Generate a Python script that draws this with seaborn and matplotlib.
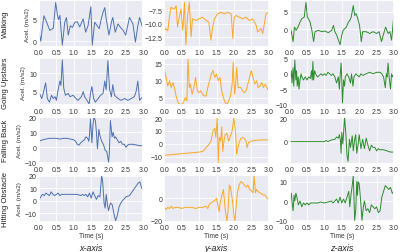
import matplotlib
matplotlib.use("Agg")
import matplotlib.pyplot as plt
import seaborn as sns
import numpy as np

# activity rows and axis columns
activities = ["Walking", "Going Upstairs", "Falling Back", "Hitting Obstacle"]
axis_names = ["x-axis", "y-axis", "z-axis"]
line_colors = ["#4c72b0", "#f9a825", "#2e8b2e"]

# --- Walking ---
walk_x_t = [0, 0.05, 0.14, 0.22, 0.31, 0.41, 0.48, 0.53, 0.56, 0.6, 0.67, 0.74, 0.79, 0.84, 0.9, 0.96,
            1.03, 1.1, 1.17, 1.27, 1.34, 1.41, 1.49, 1.53, 1.6, 1.67, 1.73, 1.79, 1.84, 1.89, 1.93, 2.01,
            2.08, 2.12, 2.19, 2.27, 2.34, 2.41, 2.49, 2.6, 2.7, 2.77, 2.84, 2.89, 2.96, 3.0]
walk_x_v = [2.1, 0, 5.9, 4.4, 2.5, 3, 9, 6, 5, 6, -0.9, 4.4, 5.5, 1.4, 3.6, 3.2,
            4.4, 4.5, 3.3, 5.2, 2.1, 3.6, 8, -0.9, 4.4, 3.6, 2.9, 5.2, 6.7, 7.8, 5.2, 1.4,
            4.4, 5.5, 2.1, 4, 3.2, 2.6, 1.4, 5.5, 4, -0.2, 3.6, 5.5, 3.6, 2.9]
walk_y_t = [0, 0.05, 0.1, 0.14, 0.19, 0.29, 0.34, 0.38, 0.43, 0.48, 0.53, 0.58, 0.62, 0.67, 0.72, 0.77,
            0.81, 0.91, 1.0, 1.1, 1.2, 1.28, 1.34, 1.39, 1.44, 1.53, 1.63, 1.73, 1.82, 1.92, 1.97, 2.01,
            2.06, 2.16, 2.25, 2.35, 2.44, 2.54, 2.64, 2.68, 2.78, 2.83, 2.92, 3.0]
walk_y_v = [-11.2, -10.9, -11.3, -9.1, -7.0, -7.3, -6.7, -10.6, -8.8, -7.3, -11.2, -6.1, -13.9, -8.5, -6.1, -12.4,
            -9.1, -9.4, -9.1, -8.8, -9.4, -9.7, -13.0, -10.6, -9.1, -8.2, -7.9, -8.2, -7.9, -8.2, -12.7, -8.8,
            -8.5, -8.8, -9.1, -8.8, -9.4, -9.1, -10.3, -11.5, -10.9, -11.8, -8.2, -7.9]
walk_z_t = [0, 0.05, 0.1, 0.14, 0.19, 0.24, 0.3, 0.35, 0.42, 0.47, 0.51, 0.54, 0.59, 0.64, 0.69, 0.73,
            0.83, 0.92, 1.02, 1.11, 1.21, 1.26, 1.3, 1.35, 1.45, 1.5, 1.54, 1.63, 1.69, 1.73, 1.77, 1.83,
            1.87, 1.91, 1.96, 2.01, 2.06, 2.1, 2.2, 2.3, 2.4, 2.5, 2.57, 2.64, 2.69, 2.76, 2.83, 2.88,
            2.93, 3.0]
walk_z_v = [1.1, -0.7, -3.5, 0.6, -0.3, 0.6, 2, 3, 3.4, 7.6, 3.4, 3, 2, -0.3, -3.5, -0.7,
            -0.3, -0.7, -0.5, -1, -0.3, 1.1, -0.7, -1.6, -4.4, -1.7, -0.3, 0.6, 2, 2.5, 3.4, 6.7,
            3.9, 4.4, 3, 1.1, -3.5, -0.7, -0.7, -1.2, -0.7, -1.2, -0.7, -3.5, -1.7, 0.6, -1.2, -0.7,
            -3.1, 4.4]

# --- Going Upstairs ---
up_x_t = [0, 0.08, 0.12, 0.19, 0.24, 0.3, 0.36, 0.41, 0.46, 0.5, 0.55, 0.6, 0.63, 0.67, 0.71, 0.76,
          0.84, 0.89, 0.98, 1.06, 1.12, 1.22, 1.27, 1.31, 1.38, 1.44, 1.48, 1.52, 1.57, 1.62, 1.7, 1.77,
          1.84, 1.89, 1.93, 1.98, 2.03, 2.08, 2.12, 2.17, 2.27, 2.36, 2.46, 2.55, 2.65, 2.74, 2.79, 2.84,
          2.89, 2.93, 3.0]
up_x_v = [4.7, 3.1, 4.5, 7.4, 3.1, 2.1, 4, 3.1, 3.6, 2.6, 5.5, 7.9, 6.7, 13.7, 6, 4,
          4.5, 3.6, 4, 3.1, 2.6, 3.6, 5, 3.6, 2.6, 1.6, 4.5, 6.4, 3.1, 2.1, 3.1, 4,
          4.5, 7.9, 5.5, 13.5, 5.5, 3.6, 6.9, 4, 3.1, 2.6, 3.1, 2.6, 3.1, 3.6, 5, 7.9,
          2.6, 3.1, 3.6]
up_y_t = [0, 0.05, 0.1, 0.15, 0.2, 0.25, 0.3, 0.35, 0.4, 0.45, 0.5, 0.55, 0.6, 0.65, 0.68, 0.72,
          0.75, 0.8, 0.85, 0.9, 0.95, 1.0, 1.05, 1.1, 1.15, 1.2, 1.25, 1.3, 1.35, 1.4, 1.45, 1.5,
          1.55, 1.6, 1.65, 1.7, 1.75, 1.8, 1.85, 1.9, 1.95, 1.98, 2.02, 2.05, 2.08, 2.12, 2.2, 2.25,
          2.3, 2.35, 2.4, 2.45, 2.5, 2.55, 2.6, 2.65, 2.7, 2.75, 2.8, 2.85, 2.9, 2.95, 3.0]
up_y_v = [13.5, 11, 8.5, 10, 8, 9.5, 7.5, 5, 3.5, 3, 3, 3.5, 5, 4, 16.5, 8,
          9, 6, 8, 11, 7, 6.5, 7, 6, 5.5, 5.5, 8, 10, 12, 13, 11, 12,
          10, 11, 7, 5, 3.5, 3, 4, 5.5, 9, 15.5, 6, 9, 14, 8, 8, 7,
          6.5, 7, 9, 11, 13, 11, 9, 10, 8, 8.5, 9.5, 8, 9, 8, 7]
up_z_t = [0, 0.03, 0.05, 0.07, 0.1, 0.12, 0.15, 0.18, 0.2, 0.22, 0.25, 0.27, 0.3, 0.33, 0.35, 0.4,
          0.45, 0.5, 0.55, 0.6, 0.63, 0.65, 0.67, 0.69, 0.72, 0.75, 0.8, 0.85, 0.9, 0.95, 1.0, 1.05,
          1.1, 1.15, 1.2, 1.25, 1.3, 1.35, 1.4, 1.43, 1.45, 1.48, 1.5, 1.52, 1.55, 1.58, 1.6, 1.65,
          1.7, 1.75, 1.78, 1.82, 1.85, 1.9, 1.95, 2.0, 2.05, 2.1, 2.2, 2.3, 2.4, 2.5, 2.6, 2.65,
          2.7, 2.75, 2.78, 2.8, 2.83, 2.86, 2.9, 2.93, 2.96, 3.0]
up_z_v = [0, -1, 1, -3, 2, -4, 4.5, -2, 1, -4, -1, -5, -2, 0, -1, -2,
          -1, -2, -1, -1.5, 1, -2, 4, -2, 1, 0, -1, -0.5, 0, -0.5, 0, -0.5,
          0.5, 0, -0.5, 0, -1, -3, -1, -5, -1, 3.5, -2, -9.5, -2, -4, -1, 0,
          -1, -3, 0, -4, -1, 0, -0.5, -1, 0, -0.5, 0, 0.5, 0, 0.5, 0.5, 0,
          -1, -4.5, 0, -1, 3.5, -1, -5, 0, -1, 0]

# --- Falling Back ---
fall_x_t = [0, 0.1, 0.2, 0.3, 0.4, 0.5, 0.6, 0.7, 0.8, 0.9, 1.0, 1.05, 1.1, 1.15, 1.2, 1.3,
            1.35, 1.4, 1.43, 1.45, 1.48, 1.52, 1.55, 1.58, 1.62, 1.65, 1.68, 1.72, 1.75, 1.8, 1.85, 1.9,
            1.95, 2.0, 2.02, 2.05, 2.1, 2.13, 2.17, 2.2, 2.25, 2.3, 2.35, 2.4, 2.45, 2.5, 2.55, 2.6,
            2.7, 2.8, 2.9, 3.0]
fall_x_v = [4, 5, 5.5, 6, 6, 6, 5.5, 6, 6, 5.5, 5, 4, 2, 1.5, 3, 5,
            7, 6, 4, 8, 19, 3, 15, 20, 18, 10, -1, 12, 8, 4, 2, -2,
            -3, -10, -5, 18, 7, 10, 6, 7, 5, 3, 4, 2, 2, 0, 1.5, 2,
            2, 1.5, 1, 1]
fall_y_t = [0, 0.2, 0.4, 0.6, 0.8, 1.0, 1.1, 1.15, 1.2, 1.3, 1.35, 1.4, 1.45, 1.48, 1.52, 1.55,
            1.58, 1.62, 1.65, 1.68, 1.72, 1.75, 1.8, 1.85, 1.9, 1.95, 2.0, 2.05, 2.08, 2.1, 2.15, 2.2,
            2.25, 2.3, 2.35, 2.38, 2.42, 2.5, 2.6, 2.8, 3.0]
fall_y_v = [-9, -8.5, -8, -7.5, -7, -6.5, -6, -5, -3, 0, 3, 10, 12, 5, 20, -15,
            5, 2, 13, -6, 3, 7, 8, 2, 6, 10, 20, 8, -8, -5, 1, 4,
            5, 4, 2, -3, 1, 2, 2.5, 3, 3]
fall_z_t = [0, 0.5, 1.0, 1.05, 1.1, 1.2, 1.3, 1.35, 1.4, 1.43, 1.46, 1.48, 1.5, 1.53, 1.58, 1.62,
            1.65, 1.68, 1.72, 1.75, 1.8, 1.83, 1.87, 1.9, 1.93, 1.97, 2.0, 2.05, 2.1, 2.15, 2.2, 2.25,
            2.3, 2.35, 2.4, 2.45, 2.5, 2.55, 2.6, 2.7, 2.8, 2.9, 3.0]
fall_z_v = [0, 0, 0, 1, 0, 1.5, 2, 4, 3, 6, 1, -10, 8, -2, 21, 5,
            -12, -17, 2, -5, 5, -8, 2, 6, -10, -2, 6, -6, 2, -6, 3, -3,
            -8, -3, -5, -5, -8, -6, -7, -7, -8, -9, -9]

# --- Hitting Obstacle ---
hit_x_t = [0, 0.05, 0.1, 0.15, 0.2, 0.25, 0.3, 0.35, 0.4, 0.45, 0.5, 0.55, 0.6, 0.65, 0.7, 0.8,
           0.9, 1.0, 1.1, 1.2, 1.25, 1.3, 1.35, 1.4, 1.45, 1.5, 1.55, 1.6, 1.65, 1.7, 1.75, 1.8,
           1.83, 1.87, 1.9, 1.93, 1.97, 2.0, 2.05, 2.1, 2.15, 2.2, 2.25, 2.3, 2.35, 2.4, 2.5, 2.6,
           2.7, 2.8, 2.85, 2.9, 2.95, 3.0]
hit_x_v = [0.5, 3, 5, 4, 6, 5, 4, 7, 5, 4, 5, 6, 4, 5, 5, 5,
           5, 5, 5, 4, 5, 4, 5, 3, 6, 2, 7, 4, 1, 4, 3, 20,
           15, -2, -6, 5, -4, -8, -2, -3, -10, -16, -12, -5, -2, 0, 3, 4,
           8, 12, 14, 15, 10, 8]
hit_y_t = [0, 0.05, 0.1, 0.15, 0.2, 0.25, 0.3, 0.4, 0.5, 0.6, 0.7, 0.8, 0.9, 1.0, 1.1, 1.2,
           1.25, 1.3, 1.4, 1.45, 1.5, 1.55, 1.58, 1.6, 1.65, 1.7, 1.75, 1.8, 1.83, 1.87, 1.9, 1.95,
           2.0, 2.03, 2.07, 2.1, 2.15, 2.2, 2.25, 2.3, 2.35, 2.4, 2.45, 2.5, 2.55, 2.58, 2.62, 2.65,
           2.7, 2.75, 2.8, 2.85, 2.9, 2.95, 3.0]
hit_y_v = [-8, -10, -8, -9, -7, -9, -8, -8, -9, -8, -8, -8, -9, -8, -8, -7,
           -9, -5, -3, -2, 0, -8, -12, -5, 2, 8, -10, -20, -12, 12, 10, 0,
           -15, -20, -5, 5, 12, 15, 14, 12, 10, 12, 8, 7, 5, 20, 5, 8,
           6, 5, 4, 3, 3, 0, 0]
hit_z_t = [0, 0.03, 0.05, 0.08, 0.1, 0.13, 0.15, 0.18, 0.2, 0.25, 0.3, 0.35, 0.4, 0.45, 0.5, 0.55,
           0.6, 0.7, 0.8, 0.9, 1.0, 1.1, 1.2, 1.25, 1.3, 1.35, 1.4, 1.45, 1.5, 1.55, 1.6, 1.65,
           1.7, 1.73, 1.77, 1.8, 1.83, 1.87, 1.9, 1.93, 1.95, 1.97, 2.0, 2.05, 2.08, 2.12, 2.15, 2.2,
           2.25, 2.3, 2.35, 2.4, 2.45, 2.5, 2.55, 2.6, 2.65, 2.7, 2.75, 2.8, 2.85, 2.9, 2.95, 3.0]
hit_z_v = [-3, 2, 4, -2, -5, 3, 0, 4, 3, -2, 0, -3, -1, -2, -1, -2,
           -1, -1, -1, -0.5, -1, -0.5, 0, -1, 0, 1, -1, 2, -1, 1, -1, 2,
           5, -3, 4, 8, 13, -10, -5, 10, 3, 10, 9, -2, -10, -3, 0, -5,
           -4, -6, -2, -3, -4, -3, -6, -5, 2, 5, 8, 7, 6, 7, 4, 5]

series = [
    [(walk_x_t, walk_x_v), (walk_y_t, walk_y_v), (walk_z_t, walk_z_v)],
    [(up_x_t, up_x_v), (up_y_t, up_y_v), (up_z_t, up_z_v)],
    [(fall_x_t, fall_x_v), (fall_y_t, fall_y_v), (fall_z_t, fall_z_v)],
    [(hit_x_t, hit_x_v), (hit_y_t, hit_y_v), (hit_z_t, hit_z_v)],
]

y_ticks = [
    [[0, 5], [-12.5, -10.0, -7.5], [0, 5]],
    [[5, 10], [5, 10, 15], [-10, -5, 0, 5]],
    [[-10, 0, 10, 20], [-10, 0, 10, 20], [0, 20]],
    [[-10, 0, 10, 20], [-20, 0], [-10, 0, 10]],
]
y_lims = [
    [(-1.4, 9.5), (-14.3, -5.7), (-5.1, 8.2)],
    [(1.2, 14.1), (2.7, 16.6), (-10.3, 5.0)],
    [(-11, 20.5), (-15.5, 21), (-19, 21.5)],
    [(-17, 20.5), (-21, 21), (-10.8, 13.5)],
]

sns.set_theme(style="darkgrid")
plt.rcParams["font.family"] = ["Liberation Sans", "DejaVu Sans"]

fig, axes = plt.subplots(4, 3, figsize=(4.0, 2.53), dpi=100)
fig.subplots_adjust(left=0.0975, right=0.985, top=0.995, bottom=0.119,
                    wspace=0.2, hspace=0.24)

for r in range(4):
    for c in range(3):
        ax = axes[r, c]
        t, v = series[r][c]
        sns.lineplot(x=t, y=v, ax=ax, color=line_colors[c], linewidth=0.7)
        ax.set_xlim(0, 3)
        ax.set_xticks([0, 0.5, 1.0, 1.5, 2.0, 2.5, 3.0])
        ax.set_xticklabels(["0.0", "0.5", "1.0", "1.5", "2.0", "2.5", "3.0"])
        ax.set_yticks(y_ticks[r][c])
        ax.set_ylim(*y_lims[r][c])
        ax.tick_params(labelsize=5.0, pad=1.5, length=0, colors="#333333")
        for g in ax.get_xgridlines() + ax.get_ygridlines():
            g.set_linewidth(0.6)
        ax.set_xlabel("")
        ax.set_ylabel("")
        if c == 0:
            ax.set_ylabel("Acel. (m/s2)", fontsize=4.6, labelpad=2, color="#333333")
        if r == 3:
            ax.set_xlabel("Time (s)", fontsize=4.8, labelpad=0.5, color="#333333")

for r, name in enumerate(activities):
    pos = axes[r, 0].get_position()
    fig.text(0.013, (pos.y0 + pos.y1) / 2, name, rotation=90, ha="center", va="center",
             fontsize=5.6, color="#222222")

for c, name in enumerate(axis_names):
    pos = axes[3, c].get_position()
    fig.text((pos.x0 + pos.x1) / 2, 0.018, name, ha="center", va="center",
             fontsize=6.4, style="italic", color="#222222")

fig.savefig("out.png", dpi=100)
